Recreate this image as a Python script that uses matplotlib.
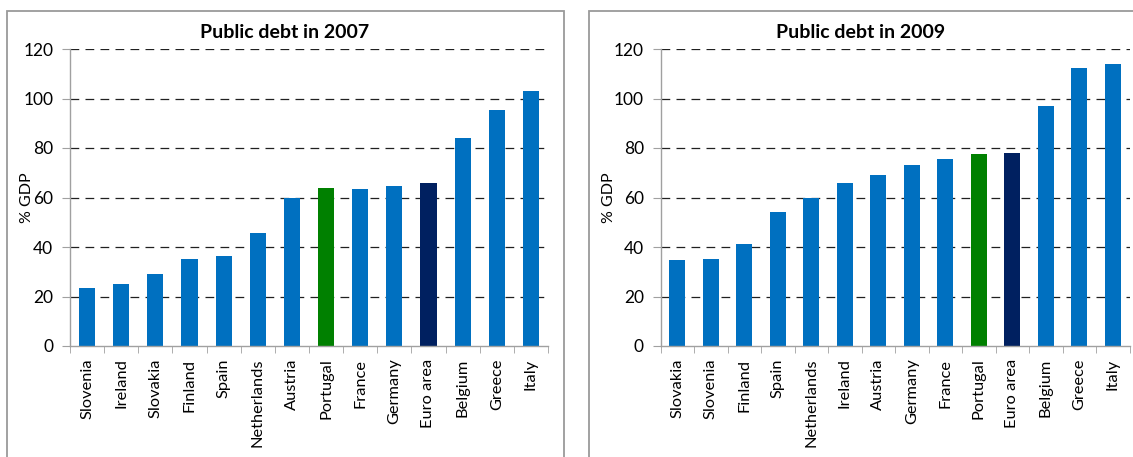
import matplotlib
matplotlib.use("Agg")
import matplotlib.pyplot as plt
from matplotlib.patches import Rectangle

plt.rcParams["font.family"] = ["Lato", "DejaVu Sans"]

# Government debt, % of GDP
countries_2007 = ["Slovenia", "Ireland", "Slovakia", "Finland", "Spain", "Netherlands",
                  "Austria", "Portugal", "France", "Germany", "Euro area", "Belgium",
                  "Greece", "Italy"]
debt_2007 = [23.4, 25.0, 29.0, 35.1, 36.2, 45.6, 59.8, 63.8, 63.4, 64.6, 65.9, 84.1, 95.5, 103.2]

countries_2009 = ["Slovakia", "Slovenia", "Finland", "Spain", "Netherlands", "Ireland",
                  "Austria", "Germany", "France", "Portugal", "Euro area", "Belgium",
                  "Greece", "Italy"]
debt_2009 = [34.6, 35.0, 41.1, 54.1, 59.8, 65.8, 69.0, 73.1, 75.6, 77.6, 78.0, 97.0, 112.5, 114.1]

yticks = [0, 20, 40, 60, 80, 100, 120]

BLUE = "#0070C0"
GREEN = "#008000"
NAVY = "#002060"
AXIS_GRAY = "#A0A0A0"


def bar_colors(names):
    cols = []
    for n in names:
        if n == "Portugal":
            cols.append(GREEN)
        elif n == "Euro area":
            cols.append(NAVY)
        else:
            cols.append(BLUE)
    return cols


def draw_panel(fig, rect, names, values, title, title_x, ylabel_x):
    ax = fig.add_axes(rect)
    x = range(len(names))
    ax.bar(x, values, width=0.47, color=bar_colors(names), zorder=3)
    ax.set_xlim(-0.5, len(names) - 0.5)
    ax.set_ylim(0, 120)
    ax.set_yticks(yticks)
    ax.set_yticklabels([str(t) for t in yticks], fontsize=12.5)
    for t in yticks[1:]:
        ax.axhline(t, color="#202020", lw=0.9, ls=(0, (7, 5)), zorder=1)

    ax.set_xticks(list(x))
    ax.set_xticklabels(names, rotation=90, fontsize=11.8)
    ax.tick_params(axis="x", length=0, pad=9)
    # category boundary ticks
    ax.set_xticks([i - 0.5 for i in range(len(names) + 1)], minor=True)
    ax.tick_params(axis="x", which="minor", length=5, color=AXIS_GRAY, direction="out")
    ax.tick_params(axis="y", length=6, color=AXIS_GRAY, pad=6)

    for side in ["top", "right"]:
        ax.spines[side].set_visible(False)
    for side in ["left", "bottom"]:
        ax.spines[side].set_color(AXIS_GRAY)
        ax.spines[side].set_linewidth(1.0)
        ax.spines[side].set_zorder(4)

    fig.text(ylabel_x, rect[1] + rect[3] / 2, "% GDP", rotation=90,
             ha="center", va="center", fontsize=11.5)
    fig.text(title_x, 1 - 32 / 457, title, ha="center", va="center",
             fontsize=14, fontweight="bold")
    return ax


fig = plt.figure(figsize=(11.33, 4.57), dpi=100)

W, H = 1133, 457
# panel frames
fig.patches.append(Rectangle((7 / W, -0.05), (564 - 7) / W, 1.05 - 11 / H,
                             transform=fig.transFigure, fill=False,
                             edgecolor="#9A9A9A", lw=1.3))
fig.patches.append(Rectangle((589 / W, -0.05), 0.5, 1.05 - 11 / H,
                             transform=fig.transFigure, fill=False,
                             edgecolor="#9A9A9A", lw=1.3))

bottom = 1 - 346 / H
height = (346 - 49) / H

draw_panel(fig, [70 / W, bottom, (548 - 70) / W, height],
           countries_2007, debt_2007, "Public debt in 2007", 285 / W, 27 / W)
draw_panel(fig, [660.5 / W, bottom, (1129.5 - 660.5) / W, height],
           countries_2009, debt_2009, "Public debt in 2009", 861 / W, 609 / W)

fig.savefig("out.png", dpi=100)
